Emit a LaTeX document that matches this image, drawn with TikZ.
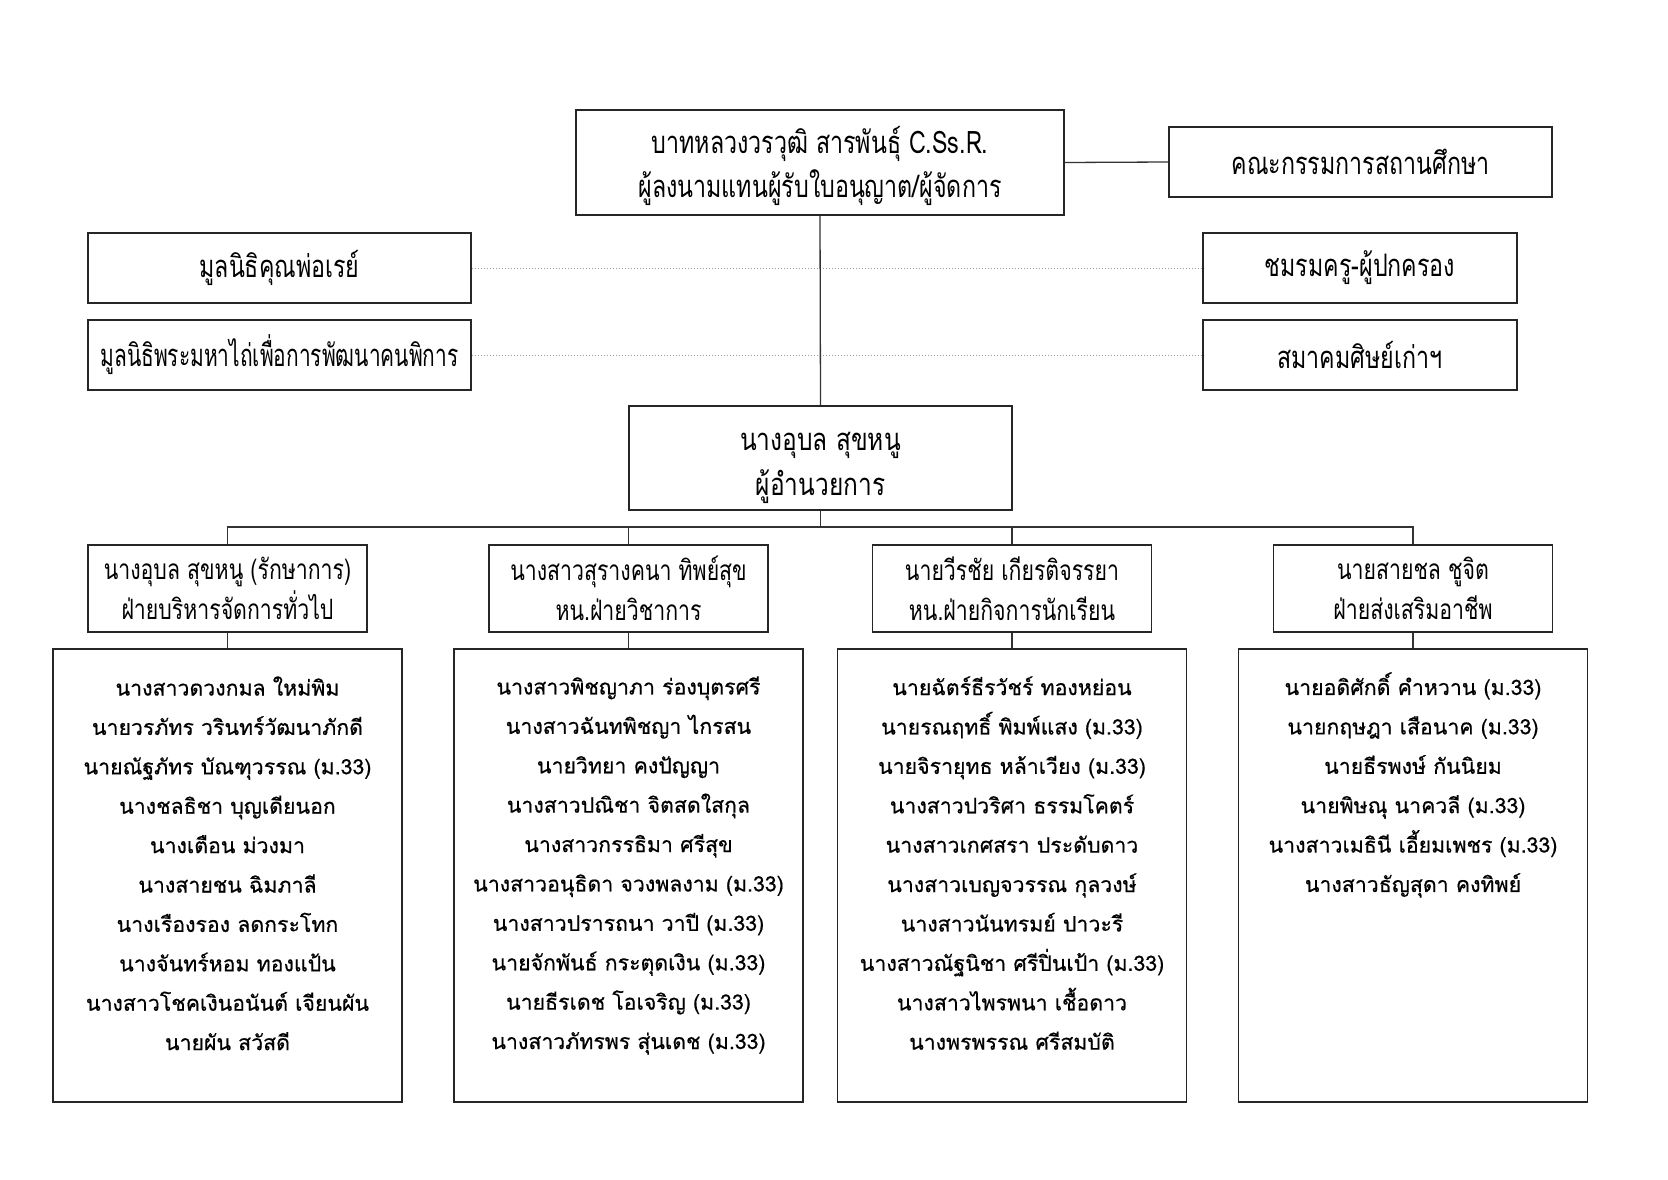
\documentclass[tikz,border=0pt]{standalone}
\usepackage{fontspec}
\newfontfamily\thai[Script=Thai,FakeBold=0.5]{Loma}
\newfontfamily\thaicond[Script=Thai,FakeStretch=0.75]{Loma}
\newfontfamily\thaicondd[Script=Thai,FakeStretch=0.76]{Loma}
\newfontfamily\thaicondn[Script=Thai,FakeStretch=0.675]{Loma}
\newfontfamily\thaicondr[Script=Thai,FakeStretch=0.79]{Loma}
\begin{document}
\begin{tikzpicture}[x=1pt,y=-1pt,
  box/.style={draw=black!85, line width=1.6pt, rectangle, inner sep=0pt, align=center},
  hdr/.style={box, font={\thaicond\fontsize{31}{44}\selectfont}},
  hdrs/.style={box, font={\thaicondd\fontsize{28}{39.5}\selectfont}},
  lst/.style={align=center, inner sep=0pt, anchor=north, font={\thai\fontsize{21.3}{39.4}\selectfont}},
  conn/.style={line width=1.3pt, black!80},
  dots/.style={line width=1pt, black!40, dotted}]
\fill[white] (0,0) rectangle (1668,1180);
\useasboundingbox (0,0) rectangle (1668,1180);

% top level
\node[box, minimum width=488, minimum height=105] (top) at (820,162.5) {};
\node[align=center, inner sep=0pt, font={\thaicond\fontsize{31}{44}\selectfont}] (toptext) at ([yshift=-3]top.center)
  {บาทหลวงวรวุฒิ สารพันธุ์ C.Ss.R.\\ผู้ลงนามแทนผู้รับใบอนุญาต/ผู้จัดการ};
\node[hdr, minimum width=383, minimum height=70] (board) at (1360.5,162) {คณะกรรมการสถานศึกษา};
\node[hdr, minimum width=383, minimum height=70] (fr1) at (279.5,268) {มูลนิธิคุณพ่อเรย์};
\node[hdr, minimum width=383, minimum height=70, font={\thaicondn\fontsize{31}{44}\selectfont}] (fr2) at (279.5,355) {มูลนิธิพระมหาไถ่เพื่อการพัฒนาคนพิการ};
\node[hdr, minimum width=314, minimum height=70] (pta) at (1360,268) {ชมรมครู-ผู้ปกครอง};
\node[hdr, minimum width=314, minimum height=70] (alum) at (1360,355) {สมาคมศิษย์เก่าฯ};
\node[box, minimum width=383, minimum height=104] (dir) at (820.5,458) {};
\node[align=center, inner sep=0pt, font={\thaicondr\fontsize{31}{45}\selectfont}] (dirtext) at ([yshift=-10]dir.center)
  {นางอุบล สุขหนู\\ผู้อำนวยการ};

% departments
\node[hdrs, minimum width=279, minimum height=87] (d1) at (227.5,588.5) {นางอุบล สุขหนู (รักษาการ)\\ฝ่ายบริหารจัดการทั่วไป};
\node[hdrs, minimum width=279, minimum height=87] (d2) at (628.5,588.5) {นางสาวสุรางคนา ทิพย์สุข\\หน.ฝ่ายวิชาการ};
\node[hdrs, minimum width=279, minimum height=87] (d3) at (1012,588.5) {นายวีรชัย เกียรติจรรยา\\หน.ฝ่ายกิจการนักเรียน};
\node[hdrs, minimum width=279, minimum height=87] (d4) at (1413,588.5) {นายสายชล ชูจิต\\ฝ่ายส่งเสริมอาชีพ};

% member boxes
\node[box, minimum width=349, minimum height=453] (m1) at (227.5,875.5) {};
\node[box, minimum width=349, minimum height=453] (m2) at (628.5,875.5) {};
\node[box, minimum width=349, minimum height=453] (m3) at (1012,875.5) {};
\node[box, minimum width=349, minimum height=453] (m4) at (1413,875.5) {};

\node[lst] (l1) at ([yshift=-28]m1.north) {นางสาวดวงกมล ใหม่พิม\\นายวรภัทร วรินทร์วัฒนาภักดี\\นายณัฐภัทร บัณฑุวรรณ (ม.33)\\นางชลธิชา บุญเดียนอก\\นางเตือน ม่วงมา\\นางสายชน ฉิมภาลี\\นางเรืองรอง ลดกระโทก\\นางจันทร์หอม ทองแป้น\\นางสาวโชคเงินอนันต์ เจียนผัน\\นายผัน สวัสดี};
\node[lst] (l2) at ([yshift=-28]m2.north) {นางสาวพิชญาภา ร่องบุตรศรี\\นางสาวฉันทพิชญา ไกรสน\\นายวิทยา คงปัญญา\\นางสาวปณิชา จิตสดใสกุล\\นางสาวกรรธิมา ศรีสุข\\นางสาวอนุธิดา จวงพลงาม (ม.33)\\นางสาวปรารถนา วาปี (ม.33)\\นายจักพันธ์ กระตุดเงิน (ม.33)\\นายธีรเดช โอเจริญ (ม.33)\\นางสาวภัทรพร สุ่นเดช (ม.33)};
\node[lst] (l3) at ([yshift=-28]m3.north) {นายฉัตร์ธีรวัชร์ ทองหย่อน\\นายรณฤทธิ์ พิมพ์แสง (ม.33)\\นายจิรายุทธ หล้าเวียง (ม.33)\\นางสาวปวริศา ธรรมโคตร์\\นางสาวเกศสรา ประดับดาว\\นางสาวเบญจวรรณ กุลวงษ์\\นางสาวนันทรมย์ ปาวะรี\\นางสาวณัฐนิชา ศรีปิ่นเป้า (ม.33)\\นางสาวไพรพนา เชื้อดาว\\นางพรพรรณ ศรีสมบัติ};
\node[lst] (l4) at ([yshift=-24]m4.north) {นายอดิศักดิ์ คำหวาน (ม.33)\\นายกฤษฎา เสือนาค (ม.33)\\นายธีรพงษ์ กันนิยม\\นายพิษณุ นาควลี (ม.33)\\นางสาวเมธินี เอี้ยมเพชร (ม.33)\\นางสาวธัญสุดา คงทิพย์};

% connectors
\draw[dots] (fr1.east) -- (pta.west);
\draw[dots] (fr2.east) -- (alum.west);
\draw[conn] (top.south) -- (dir.north);
\draw[conn] (top.east) -- (board.west);
\coordinate (bus) at (0,527);
\draw[conn] (dir.south) -- (dir.south |- bus);
\draw[conn] (d1.north) -- (d1.north |- bus) -- (d4.north |- bus) -- (d4.north);
\draw[conn] (d2.north) -- (d2.north |- bus);
\draw[conn] (d3.north) -- (d3.north |- bus);
\draw[conn] (d1.south) -- (m1.north);
\draw[conn] (d2.south) -- (m2.north);
\draw[conn] (d3.south) -- (m3.north);
\draw[conn] (d4.south) -- (m4.north);
\end{tikzpicture}
\end{document}
